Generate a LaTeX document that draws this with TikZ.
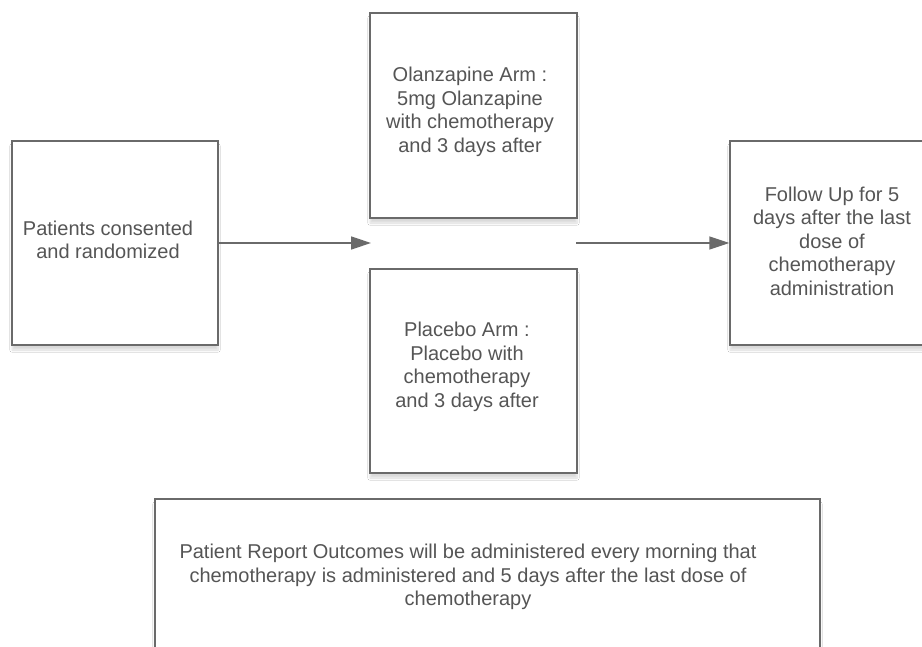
\documentclass[tikz,border=0pt]{standalone}
\usepackage{fontspec}
\setmainfont{Liberation Sans}
\usetikzlibrary{arrows.meta,shadows.blur}
\definecolor{edgegray}{HTML}{6A6A6A}
\definecolor{txtgray}{HTML}{555555}
\tikzset{
  boxstyle/.style={draw=edgegray, line width=1.4pt, fill=white, text=txtgray,
    blur shadow={shadow xshift=0pt, shadow yshift=-5pt, shadow blur steps=8, shadow opacity=15}},
  txtstyle/.style={text=txtgray, align=center, font=\fontsize{20}{23.5}\selectfont, inner sep=0pt},
  arrowstyle/.style={draw=edgegray, line width=1.4pt, -{Triangle[length=20pt,width=13pt]}}
}
\begin{document}
\begin{tikzpicture}[x=1pt,y=-1pt]
\useasboundingbox (0,0) rectangle (922,647);
\clip (0,0) rectangle (922,647);
\fill[white] (0,0) rectangle (922,647);
% boxes
\node[boxstyle, minimum width=206pt, minimum height=204pt, inner sep=0pt] (start) at (115,243) {};
\node[boxstyle, minimum width=207pt, minimum height=205pt, inner sep=0pt] (olz) at (473.5,115.5) {};
\node[boxstyle, minimum width=207pt, minimum height=204pt, inner sep=0pt] (plc) at (473.5,371) {};
\node[boxstyle, minimum width=206pt, minimum height=204pt, inner sep=0pt] (fup) at (833,243) {};
\node[boxstyle, minimum width=665pt, minimum height=180pt, inner sep=0pt] (pro) at (487.5,589) {};
% texts
\node[txtstyle] (tstart) at (108,240) {Patients consented\\ and randomized};
\node[txtstyle] (tolz) at (470,112) {Olanzapine Arm :\\ 5mg Olanzapine\\ with chemotherapy\\ and 3 days after};
\node[txtstyle] (tplc) at (467,367) {Placebo Arm :\\ Placebo with\\ chemotherapy\\ and 3 days after};
\node[txtstyle] (tfup) at (832,241) {Follow Up for 5\\ days after the last\\ dose of\\ chemotherapy\\ administration};
\node[txtstyle] (tpro) at (468,577) {Patient Report Outcomes will be administered every morning that\\ chemotherapy is administered and 5 days after the last dose of\\ chemotherapy};
% arrows
\coordinate (a1e) at (371,243);
\coordinate (a2s) at (576,243);
\draw[arrowstyle] (start.east |- a1e) -- (a1e);
\draw[arrowstyle] (a2s) -- (fup.west |- a2s);
\end{tikzpicture}
\end{document}
